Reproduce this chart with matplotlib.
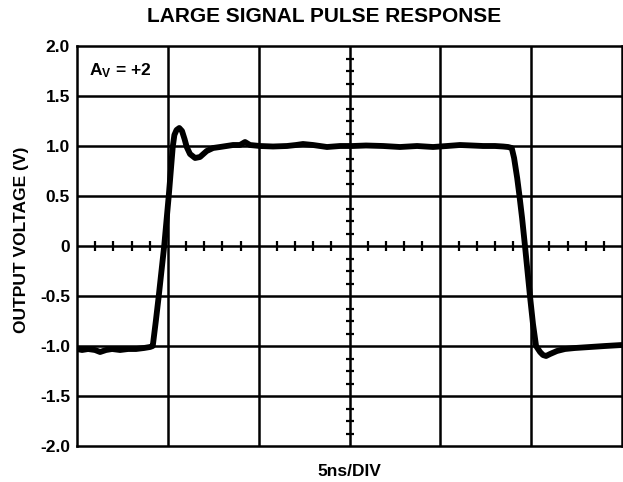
import numpy as np
import matplotlib
matplotlib.use("Agg")
import matplotlib.pyplot as plt

# ---- data (time in ns, output voltage in V) ----
time_ns = [0.0, 0.28, 0.61, 0.99, 1.27, 1.60, 1.93, 2.37, 2.81, 3.25, 3.69, 4.02, 4.17,
           4.34, 4.50, 4.80, 5.05, 5.27, 5.36, 5.48, 5.63, 5.78, 5.92, 6.04, 6.22, 6.50,
           6.77, 7.14, 7.49, 7.87, 8.59, 8.97, 9.25, 9.52, 10.07, 10.79, 11.56, 12.06,
           12.44, 12.99, 13.76, 14.48, 15.19, 15.91, 16.85, 17.78, 18.72, 19.60, 20.37,
           21.08, 21.74, 22.35, 23.01, 23.45, 23.73, 23.93,
           24.06, 24.23, 24.35, 24.50, 24.66, 24.94, 25.10, 25.27, 25.49, 25.65, 25.82,
           26.04, 26.42, 26.86, 27.41, 28.24, 29.07, 30.0]
voltage = [-1.03, -1.04, -1.03, -1.04, -1.06, -1.04, -1.03, -1.04, -1.03, -1.03, -1.02, -1.01, -1.00,
           -0.75, -0.50, 0.00, 0.50, 0.99, 1.11, 1.16, 1.18, 1.15, 1.07, 0.99, 0.92, 0.88,
           0.89, 0.95, 0.98, 0.99, 1.01, 1.01, 1.04, 1.01, 1.00, 0.995, 1.00, 1.01,
           1.02, 1.01, 0.99, 1.00, 1.00, 1.005, 1.00, 0.99, 1.00, 0.99, 1.00,
           1.01, 1.005, 1.00, 1.00, 0.995, 0.99, 0.98,
           0.88, 0.68, 0.51, 0.28, 0.00, -0.51, -0.78, -1.00, -1.06, -1.09, -1.10,
           -1.08, -1.05, -1.03, -1.02, -1.01, -1.00, -0.99]

y_ticks = [2.0, 1.5, 1.0, 0.5, 0.0, -0.5, -1.0, -1.5, -2.0]
y_tick_labels = ["2.0", "1.5", "1.0", "0.5", "0", "-0.5", "-1.0", "-1.5", "-2.0"]
x_divs = [0, 5, 10, 15, 20, 25, 30]

title = "LARGE SIGNAL PULSE RESPONSE"
ylabel = "OUTPUT VOLTAGE (V)"
xlabel = "5ns/DIV"

plt.rcParams['font.family'] = ['Liberation Sans', 'DejaVu Sans']
plt.rcParams['mathtext.fontset'] = 'custom'
plt.rcParams['mathtext.rm'] = 'Liberation Sans:bold'
plt.rcParams['mathtext.bf'] = 'Liberation Sans:bold'
plt.rcParams['mathtext.it'] = 'Liberation Sans:bold'

W, H = 623, 482
fig = plt.figure(figsize=(W / 100, H / 100), dpi=100)
ax = fig.add_axes([77 / W, 36 / H, 545 / W, 400 / H])

ax.set_xlim(0, 30)
ax.set_ylim(-2, 2)

grid_lw = 1.8
for xv in x_divs[1:-1]:
    ax.axvline(xv, color='black', lw=grid_lw, zorder=1)
for yv in y_ticks[1:-1]:
    ax.axhline(yv, color='black', lw=grid_lw, zorder=1)
for s in ax.spines.values():
    s.set_linewidth(grid_lw)

# minor tick crosses on the centre axes
minor_x = [v for v in np.arange(0, 30.01, 1.0) if v % 5 != 0]
minor_y = [v for v in np.arange(-2, 2.001, 0.125) if abs(v * 2 - round(v * 2)) > 1e-6]
ax.plot(minor_x, [0] * len(minor_x), ls='none', marker='|', ms=6.5, mew=1.6,
        color='black', zorder=2, clip_on=False)
ax.plot([15] * len(minor_y), minor_y, ls='none', marker='_', ms=5.5, mew=1.6,
        color='black', zorder=2, clip_on=False)

ax.plot(time_ns, voltage, color='black', lw=4.2, solid_joinstyle='round',
        solid_capstyle='round', zorder=3)

ax.set_xticks([])
ax.set_yticks(y_ticks)
ax.set_yticklabels(y_tick_labels, fontsize=12.5, fontweight='bold')
ax.tick_params(axis='y', length=0, pad=5)

ax.text(0.022, 0.9275, r'$\mathrm{A_V}$ = +2', transform=ax.transAxes,
        fontsize=12.5, fontweight='bold', ha='left', va='baseline')

fig.text(324 / W, 1 - 17 / H, title, ha='center', va='center',
         fontsize=15, fontweight='bold')
fig.text(349 / W, 1 - 471 / H, xlabel, ha='center', va='center',
         fontsize=12.5, fontweight='bold')
fig.text(22 / W, 1 - 240 / H, ylabel, ha='center', va='center', rotation=90,
         fontsize=12.5, fontweight='bold')

fig.savefig("out.png", dpi=100)
